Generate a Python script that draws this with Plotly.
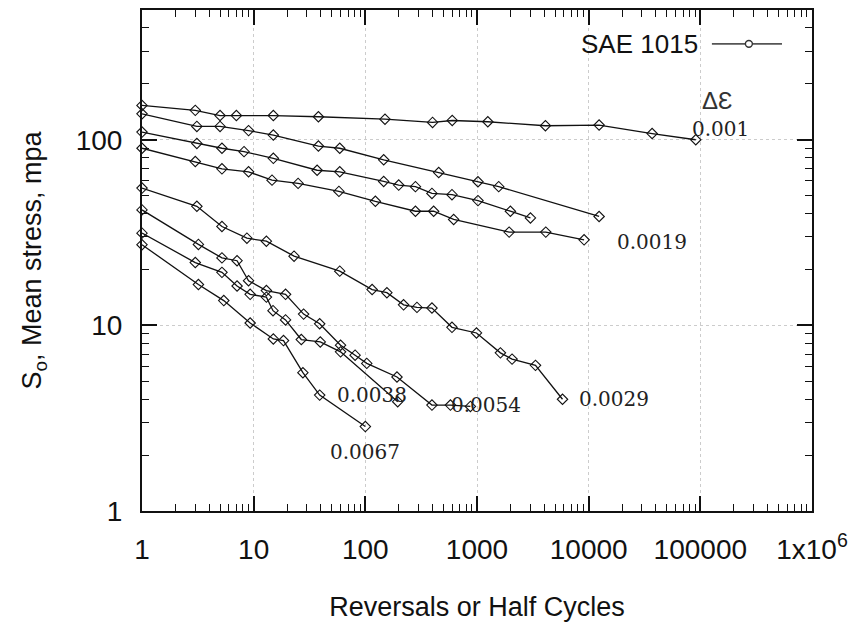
import plotly.graph_objects as go

# ---- data ----
x_001 = [1, 3, 5, 7, 15, 38, 150, 400, 600, 1250, 4100, 12400, 37000, 91000]
y_001 = [153, 144, 135, 135, 135, 133, 129, 124, 127, 125, 119, 120, 108, 100]

x_b = [1, 3.1, 5, 9, 15, 38, 59, 146, 454, 1020, 1565, 12400]
y_b = [138, 118, 118, 112, 106, 92.5, 90, 78, 66.6, 59.4, 55.9, 38.6]

x_c = [1, 3.1, 5.2, 8.2, 15, 37, 59, 146, 199, 281, 395, 597, 1020, 1990, 3010]
y_c = [110, 95.5, 90, 86.3, 79.4, 68.5, 67.2, 59.6, 57, 55.9, 51.4, 50.6, 47, 41.2, 37.9]

x_0019 = [1, 3, 5.2, 9, 14.6, 25, 58, 123, 281, 409, 618, 1940, 4130, 9100]
y_0019 = [90, 76.3, 69.7, 67.2, 60.6, 58.2, 52.7, 46.6, 41.2, 41.2, 37.2, 31.8, 31.8, 28.9]

x_0029 = [1, 3.1, 5.2, 8.7, 13, 23, 59, 115, 156, 220, 290, 395, 597, 990, 1620, 2060, 3340, 5830]
y_0029 = [54.9, 43.8, 34.1, 29.5, 28.4, 23.6, 19.6, 15.6, 15, 12.9, 12.5, 12.4, 9.76, 9.1, 7.11, 6.58, 6.09, 4.0]

x_0054 = [1, 3.2, 5.2, 7.1, 9, 13, 19.3, 28, 39, 60, 81, 103, 192, 395, 578, 873]
y_0054 = [41.9, 27.3, 23.1, 22.3, 17.4, 15.4, 14.7, 11.5, 10.2, 7.82, 6.91, 6.24, 5.27, 3.72, 3.72, 3.66]

x_0038 = [1, 3, 5.2, 7.1, 9.3, 13, 14.9, 19.3, 26.7, 39.5, 60, 195]
y_0038 = [31.4, 21.8, 19.3, 16.3, 14.7, 14.2, 12.0, 10.7, 8.39, 8.14, 7.2, 3.88]

x_0067 = [1, 3.2, 5.4, 9.3, 15, 18.5, 27.6, 39, 100]
y_0067 = [27.2, 16.6, 13.6, 10.3, 8.45, 8.28, 5.56, 4.21, 2.85]

series = [(x_001, y_001), (x_b, y_b), (x_c, y_c), (x_0019, y_0019),
          (x_0029, y_0029), (x_0054, y_0054), (x_0038, y_0038), (x_0067, y_0067)]

x_tickvals = [1, 10, 100, 1000, 10000, 100000, 1000000]
x_ticktext = ["1", "10", "100", "1000", "10000", "100000", "1x10<sup>6</sup>"]
y_tickvals = [1, 10, 100]
y_ticktext = ["1", "10", "100"]

strain_labels = ["0.001", "0.0019", "0.0029", "0.0038", "0.0054", "0.0067"]
# label anchor positions (log10 x, log10 y)
label_pos = [(5.184, 2.059), (4.565, 1.449), (4.225, 0.604), (2.056, 0.626),
             (3.078, 0.572), (1.994, 0.316)]

fig = go.Figure()
for xs, ys in series:
    fig.add_trace(go.Scatter(
        x=xs, y=ys, mode="lines+markers",
        line=dict(color="#111111", width=1.3),
        marker=dict(symbol="diamond-open", size=8, color="#111111",
                    line=dict(width=1.1, color="#111111")),
        cliponaxis=False, showlegend=False))

serif = dict(family="DejaVu Serif", size=20, color="#222222")
for txt, (lx, ly) in zip(strain_labels, label_pos):
    fig.add_annotation(x=lx, y=ly, xref="x", yref="y", text=txt,
                       showarrow=False, font=serif)
fig.add_annotation(x=5.157, y=2.214, xref="x", yref="y", text="ΔƐ",
                   showarrow=False,
                   font=dict(family="Liberation Sans", size=24, color="#333333"))

# legend drawn by hand (gnuplot style: text then sample)
fig.add_annotation(x=0.8327, y=0.9324, xref="paper", yref="paper",
                   text="SAE 1015", showarrow=False, xanchor="right", yanchor="middle",
                   font=dict(family="Liberation Sans", size=26, color="#111111"))
fig.add_shape(type="line", xref="paper", yref="paper",
              x0=0.8506, x1=0.9552, y0=0.9324, y1=0.9324,
              line=dict(color="#555555", width=1.6))
fig.add_shape(type="circle", xref="paper", yref="paper",
              x0=0.9058 - 0.0052, x1=0.9058 + 0.0052,
              y0=0.9324 - 0.0068, y1=0.9324 + 0.0068,
              line=dict(color="#333333", width=1.4), fillcolor="white")

axis_common = dict(
    type="log", showline=True, linecolor="#111111", linewidth=2, mirror="allticks",
    ticks="inside", ticklen=15, tickwidth=1.5, tickcolor="#111111",
    showgrid=True, gridcolor="#cccccc", griddash="dot", gridwidth=1,
    zeroline=False,
    tickfont=dict(family="Liberation Sans", size=28, color="#111111"),
    minor=dict(ticks="inside", ticklen=7, tickwidth=1.2, tickcolor="#111111",
               showgrid=False, dtick="D1"),
)

fig.update_layout(
    width=863, height=627,
    margin=dict(l=142, r=51, t=8, b=116),
    paper_bgcolor="white", plot_bgcolor="white",
    xaxis=dict(axis_common, range=[0, 6], tickvals=x_tickvals, ticktext=x_ticktext,
               ticklabelstandoff=12,
               title=dict(text="Reversals or Half Cycles", standoff=34,
                          font=dict(family="Liberation Sans", size=27, color="#111111"))),
    yaxis=dict(axis_common, range=[0, 2.699], tickvals=y_tickvals, ticktext=y_ticktext,
               ticklabelstandoff=12,
               title=dict(text="S<sub>o</sub>, Mean stress, mpa", standoff=26,
                          font=dict(family="Liberation Sans", size=27, color="#111111"))),
)

fig.write_html("out.html")
